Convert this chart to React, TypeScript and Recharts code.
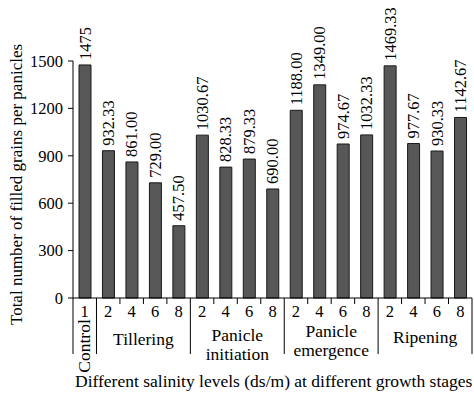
import { Bar, BarChart, LabelList, XAxis, YAxis } from "recharts"

// filled grains per panicle, one bar per salinity level and stage
const levels = ["1", "2", "4", "6", "8", "2", "4", "6", "8", "2", "4", "6", "8", "2", "4", "6", "8"]
const stages = [
  "Control",
  "Tillering", "Tillering", "Tillering", "Tillering",
  "Panicle initiation", "Panicle initiation", "Panicle initiation", "Panicle initiation",
  "Panicle emergence", "Panicle emergence", "Panicle emergence", "Panicle emergence",
  "Ripening", "Ripening", "Ripening", "Ripening",
]
const valueText = [
  "1475",
  "932.33", "861.00", "729.00", "457.50",
  "1030.67", "828.33", "879.33", "690.00",
  "1188.00", "1349.00", "974.67", "1032.33",
  "1469.33", "977.67", "930.33", "1142.67",
]
const yTicks = [0, 300, 600, 900, 1200, 1500]

const data = levels.map((level, i) => ({
  key: `${stages[i]}-${level}`,
  level,
  stage: stages[i],
  value: Number(valueText[i]),
  text: valueText[i],
}))

const W = 474
const H = 394
const xAxisH = 96
const margin = { top: 61, right: 2, bottom: 0, left: 13 }
const yAxisW = 60
const plotLeft = margin.left + yAxisW
const plotRight = W - margin.right
const band = (plotRight - plotLeft) / data.length
const font = '"Liberation Serif", "Times New Roman", serif'
const numSize = 16.5
const wordSize = 17.5

// how group names break across lines and where they sit below the axis
const stageLines: Record<string, { lines: string[]; dy: number }> = {
  Tillering: { lines: ["Tillering"], dy: 47 },
  "Panicle initiation": { lines: ["Panicle", "initiation"], dy: 43 },
  "Panicle emergence": { lines: ["Panicle", "emergence"], dy: 39 },
  Ripening: { lines: ["Ripening"], dy: 45 },
}

function CategoryTick(props: any) {
  const { x, y, payload } = props
  const i = payload.index
  const row = data[i]
  const first = i === 0 || data[i - 1].stage !== row.stage
  const last = i === data.length - 1
  const left = x - band / 2
  const parts: any[] = []

  parts.push(
    <text key="n" x={x} y={y + 19} textAnchor="middle" fontSize={numSize} fontFamily={font} fill="#000">
      {row.level}
    </text>,
  )
  if (first) {
    parts.push(<line key="sep" x1={left} y1={y} x2={left} y2={y + 56} stroke="#000" strokeWidth={1} />)
    const count = data.filter((d) => d.stage === row.stage).length
    const cx = left + (count * band) / 2
    if (row.stage === "Control") {
      parts.push(
        <text
          key="g"
          x={0}
          y={0}
          transform={`translate(${x - 1},${y + 48}) rotate(-90)`}
          textAnchor="middle"
          dominantBaseline="central"
          fontSize={wordSize}
          fontFamily={font}
          fill="#000"
        >
          Control
        </text>,
      )
    } else {
      const g = stageLines[row.stage]
      g.lines.forEach((line, k) => {
        parts.push(
          <text
            key={`g${k}`}
            x={cx}
            y={y + g.dy + k * 19}
            textAnchor="middle"
            fontSize={wordSize}
            fontFamily={font}
            fill="#000"
          >
            {line}
          </text>,
        )
      })
    }
  } else {
    parts.push(<line key="t" x1={left} y1={y} x2={left} y2={y + 6} stroke="#000" strokeWidth={1} />)
  }
  if (last) {
    parts.push(
      <line key="end" x1={x + band / 2} y1={y} x2={x + band / 2} y2={y + 56} stroke="#000" strokeWidth={1} />,
    )
  }
  return <g>{parts}</g>
}

function ValueLabel(props: any) {
  const { x, y, width, value } = props
  const cx = Number(x) + Number(width) / 2
  return (
    <text
      x={0}
      y={0}
      transform={`translate(${cx},${Number(y) - 5}) rotate(-90)`}
      textAnchor="start"
      dominantBaseline="central"
      fontSize={numSize}
      fontFamily={font}
      fill="#000"
    >
      {value}
    </text>
  )
}

function YTitle(props: any) {
  const { viewBox } = props
  const cy = viewBox.y + viewBox.height / 2 + 5
  return (
    <text
      x={0}
      y={0}
      transform={`translate(16,${cy}) rotate(-90)`}
      textAnchor="middle"
      dominantBaseline="central"
      fontSize={wordSize - 0.5}
      fontFamily={font}
      fill="#000"
    >
      Total number of filled grains per panicles
    </text>
  )
}

function XTitle(props: any) {
  const { viewBox } = props
  return (
    <text x={75} y={viewBox.y + 89} textAnchor="start" fontSize={wordSize} fontFamily={font} fill="#000">
      Different salinity levels (ds/m) at different growth stages
    </text>
  )
}

export default function App() {
  return (
    <div style={{ position: "absolute", left: 0, top: 0, width: W, height: H, background: "#fff" }}>
      <BarChart width={W} height={H} data={data} margin={margin} barSize={12}>
        <XAxis
          dataKey="key"
          interval={0}
          tickSize={0}
          tickMargin={0}
          tickLine={false}
          axisLine={{ stroke: "#000" }}
          tick={<CategoryTick />}
          height={xAxisH}
          label={<XTitle />}
        />
        <YAxis
          width={yAxisW}
          domain={[0, 1500]}
          ticks={yTicks}
          tickSize={5}
          tickMargin={5}
          axisLine={{ stroke: "#000" }}
          tickLine={{ stroke: "#000" }}
          tick={{ fill: "#000", fontSize: numSize, fontFamily: font }}
          label={<YTitle />}
        />
        <Bar dataKey="value" fill="#575757" stroke="#1a1a1a" strokeWidth={1} isAnimationActive={false}>
          <LabelList dataKey="text" content={<ValueLabel />} />
        </Bar>
      </BarChart>
    </div>
  )
}
